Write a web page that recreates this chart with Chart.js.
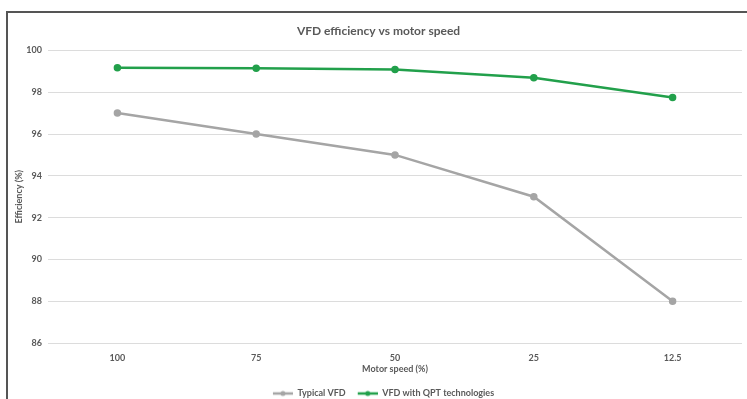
<!DOCTYPE html>
<html>
<head>
<meta charset="utf-8">
<script src="https://cdn.jsdelivr.net/npm/chart.js@4/dist/chart.umd.min.js"></script>
<style>
  html, body { margin: 0; padding: 0; background: #fff; }
  #wrap { width: 747px; height: 399px; }
</style>
</head>
<body>
<div id="wrap"><canvas id="effChart" width="747" height="399"></canvas></div>
<script>
// motor speed categories and efficiency series
const speeds = ['100', '75', '50', '25', '12.5'];
const typicalVfd = [97, 96, 95, 93, 88];
const qptVfd = [99.17, 99.15, 99.09, 98.69, 97.75];
const yTicks = [86, 88, 90, 92, 94, 96, 98, 100];

const grayColor = '#A5A5A5';
const greenColor = '#22A04B';
const textColor = '#595959';

Chart.defaults.font.family = 'Lato, "Liberation Sans", sans-serif';
Chart.defaults.color = textColor;

// line-with-dot legend marker, left margin keeps items apart
function legendMarker(color) {
    const c = document.createElement('canvas');
    c.width = 30; c.height = 8;
    const g = c.getContext('2d');
    g.strokeStyle = color;
    g.lineWidth = 2.5;
    g.beginPath(); g.moveTo(10, 4); g.lineTo(30, 4); g.stroke();
    g.fillStyle = color;
    g.beginPath(); g.arc(20, 4, 2.5, 0, Math.PI * 2); g.fill();
    return c;
}

// dark outline along the top and left edges
const framePlugin = {
    id: 'frame',
    beforeDraw(chart) {
        const ctx = chart.ctx;
        ctx.save();
        ctx.strokeStyle = '#555555';
        ctx.lineWidth = 2;
        ctx.beginPath();
        ctx.moveTo(7, 399);
        ctx.lineTo(7, 12);
        ctx.lineTo(747, 12);
        ctx.stroke();
        ctx.restore();
    }
};

// trim the extra space the legend reserves under its row
const tightLegend = {
    id: 'tightLegend',
    beforeLayout(chart) {
        const lg = chart.legend;
        if (!lg || lg._tight) return;
        const fit = lg.fit.bind(lg);
        lg.fit = function () {
            fit();
            this.height -= 9;
            this.minSize && (this.minSize.height = this.height);
        };
        lg._tight = true;
    }
};

const ctx = document.getElementById('effChart').getContext('2d');
new Chart(ctx, {
    type: 'line',
    data: {
        labels: speeds,
        datasets: [{
            label: 'Typical VFD',
            data: typicalVfd,
            borderColor: grayColor,
            backgroundColor: grayColor,
            borderWidth: 2.5,
            pointRadius: 2.5,
            pointHoverRadius: 2.5,
            tension: 0
        }, {
            label: 'VFD with QPT technologies',
            data: qptVfd,
            borderColor: greenColor,
            backgroundColor: greenColor,
            borderWidth: 2.5,
            pointRadius: 2.5,
            pointHoverRadius: 2.5,
            tension: 0
        }]
    },
    options: {
        responsive: false,
        animation: false,
        layout: { padding: { left: 14, right: 4, top: 0, bottom: 0 } },
        plugins: {
            title: {
                display: true,
                text: 'VFD efficiency vs motor speed',
                color: textColor,
                font: { size: 12, weight: 'bold' },
                padding: { top: 24, bottom: 12 }
            },
            legend: {
                position: 'bottom',
                labels: {
                    usePointStyle: true,
                    pointStyleWidth: 30,
                    padding: 2,
                    color: textColor,
                    font: { size: 9, weight: 'bold' },
                    generateLabels(chart) {
                        const items = Chart.defaults.plugins.legend.labels.generateLabels(chart);
                        items.forEach(it => {
                            const ds = chart.data.datasets[it.datasetIndex];
                            it.pointStyle = legendMarker(ds.borderColor);
                        });
                        return items;
                    }
                }
            },
            tooltip: { enabled: false }
        },
        scales: {
            x: {
                offset: true,
                grid: { display: false },
                border: { display: false },
                ticks: { color: textColor, font: { size: 9, weight: 'bold' }, padding: 2 },
                title: {
                    display: true,
                    text: 'Motor speed (%)',
                    color: textColor,
                    font: { size: 9, weight: 'bold' },
                    padding: { top: 2, bottom: 13 }
                },
                afterFit(scale) { scale.height = 44; }
            },
            y: {
                min: 86,
                max: 100,
                afterBuildTicks(scale) { scale.ticks = yTicks.map(v => ({ value: v })); },
                grid: { color: '#DCDCDC', lineWidth: 1, drawTicks: false },
                border: { display: false },
                ticks: { color: textColor, font: { size: 9, weight: 'bold' }, padding: 6 },
                title: {
                    display: true,
                    text: 'Efficiency (%)',
                    color: textColor,
                    font: { size: 9, weight: 'bold' },
                    padding: { top: 0, bottom: 2 }
                },
                afterFit(scale) { scale.width = 34; }
            }
        }
    },
    plugins: [framePlugin, tightLegend]
});
</script>
</body>
</html>
